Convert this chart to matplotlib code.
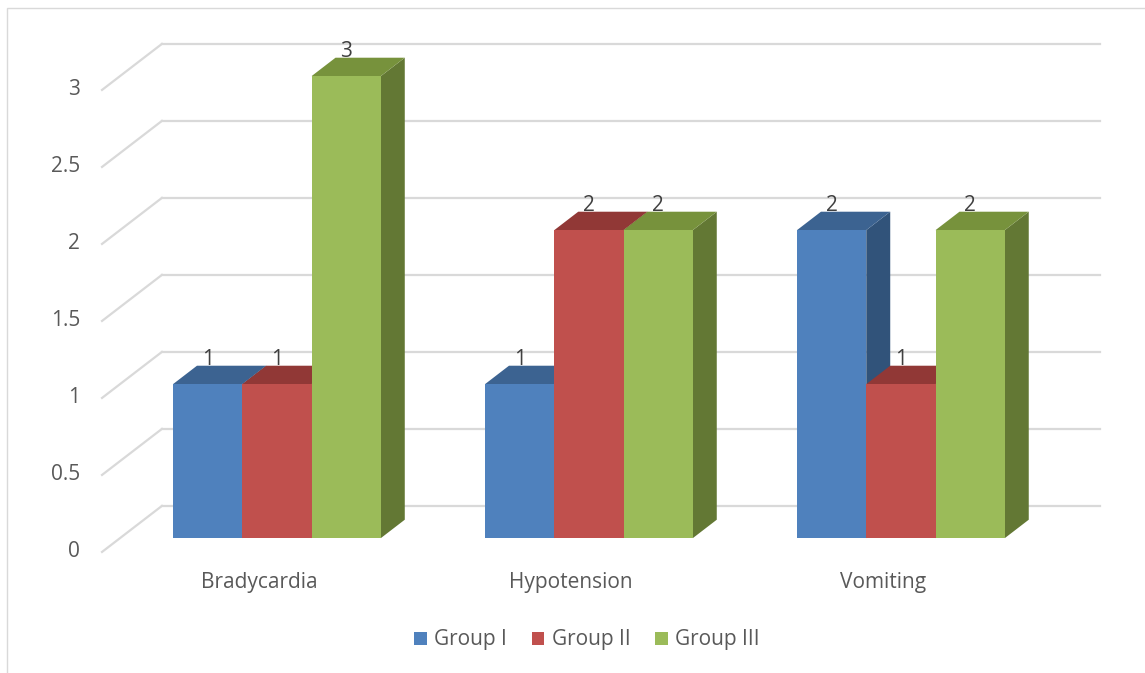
import matplotlib
matplotlib.use('Agg')
import matplotlib.pyplot as plt
from matplotlib.patches import Polygon, Rectangle, Patch

categories = ['Bradycardia', 'Hypotension', 'Vomiting']
groups = ['Group I', 'Group II', 'Group III']
group_i = [1, 1, 2]
group_ii = [1, 2, 1]
group_iii = [3, 2, 2]
y_ticks = [0, 0.5, 1, 1.5, 2, 2.5, 3]
y_tick_labels = ['0', '0.5', '1', '1.5', '2', '2.5', '3']

series = [group_i, group_ii, group_iii]
front_c = ['#4F81BD', '#C0504D', '#9BBB59']
top_c = ['#3C6391', '#913836', '#77923C']
side_c = ['#31537A', '#7A2E2C', '#637834']

plt.rcParams['font.family'] = ['Open Sans', 'DejaVu Sans']
FS = 15

fig = plt.figure(figsize=(11.45, 6.73), dpi=100)
ax = fig.add_axes([0, 0, 1, 1])
ax.set_xlim(-0.830, 2.840)
ax.set_ylim(-0.786, 3.584)
ax.axis('off')

# oblique depth of the floor (x in category units, y in value units)
DX, DY = 0.192, 0.299
Z0, Z1 = 0.3, 0.7
bw = 0.222
wall_left, wall_right = -0.503, 2.696

# gridlines: diagonal on side wall + horizontal on back wall
for v, lab in zip(y_ticks, y_tick_labels):
    ax.plot([wall_left, wall_left + DX], [v, v + DY], color='#D9D9D9', lw=1.6, zorder=1)
    ax.plot([wall_left + DX, wall_right], [v + DY, v + DY], color='#D9D9D9', lw=1.6, zorder=1)
    ax.text(wall_left - 0.07, v, lab, ha='right', va='center', fontsize=FS, color='#595959')

fx, fy = DX * Z0, DY * Z0
bx, by = DX * Z1, DY * Z1
z = 2
for i, cat in enumerate(categories):
    for j, vals in enumerate(series):
        v = vals[i]
        xl = i - 1.5 * bw + j * bw + fx
        xr = xl + bw
        # side face
        ax.add_patch(Polygon([(xr, fy), (xr - fx + bx, by), (xr - fx + bx, v + by), (xr, v + fy)],
                             closed=True, facecolor=side_c[j], edgecolor='none', zorder=z))
        # top face
        ax.add_patch(Polygon([(xl, v + fy), (xr, v + fy), (xr - fx + bx, v + by), (xl - fx + bx, v + by)],
                             closed=True, facecolor=top_c[j], edgecolor='none', zorder=z))
        # front face
        ax.bar(xl, v, width=bw, bottom=fy, align='edge', color=front_c[j],
               edgecolor='none', zorder=z + 0.5)
        ax.text(xl + bw / 2, v + by + 0.005, str(v), ha='center', va='baseline',
                fontsize=FS, color='#404040', zorder=10)
        z += 1
    ax.text(i, -0.201, cat, ha='center', va='center', fontsize=FS, color='#595959')

handles = [Patch(facecolor=c, edgecolor='none', label=g) for c, g in zip(front_c, groups)]
leg = fig.legend(handles=handles, loc='center', bbox_to_anchor=(587 / 1145, 1 - 640 / 673),
                 ncol=3, frameon=False, fontsize=FS, handlelength=0.6, handleheight=0.6,
                 handletextpad=0.35, columnspacing=1.2)
for t in leg.get_texts():
    t.set_color('#595959')

# chart area border (only top and left edges fall inside the image)
fig.add_artist(Rectangle((7 / 1145, -0.05), 1.2, 1 - 8 / 673 + 0.05, transform=fig.transFigure,
                         fill=False, edgecolor='#D9D9D9', lw=1))

fig.savefig('out.png', dpi=100)
